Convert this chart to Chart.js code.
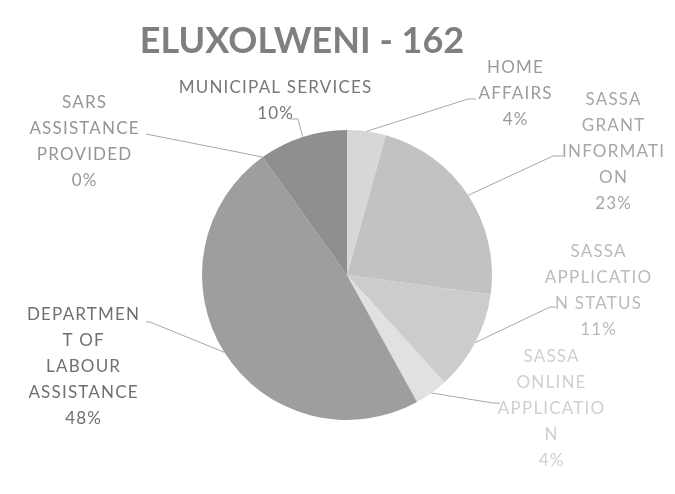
<!DOCTYPE html>
<html>
<head>
<meta charset="utf-8">
<script src="https://cdn.jsdelivr.net/npm/chart.js@4.4.1/dist/chart.umd.min.js"></script>
<style>
  html, body { margin: 0; padding: 0; background: #fff; }
  #wrap { width: 675px; height: 494px; }
</style>
</head>
<body>
<div id="wrap"><canvas id="myChart" width="675" height="494"></canvas></div>
<script>
// Eluxolweni - enquiries by category (162 in total)

const title = "ELUXOLWENI - 162"

const categories = [
  "HOME AFFAIRS",
  "SASSA GRANT INFORMATION",
  "SASSA APPLICATION STATUS",
  "SASSA ONLINE APPLICATION",
  "DEPARTMENT OF LABOUR ASSISTANCE",
  "SARS ASSISTANCE PROVIDED",
  "MUNICIPAL SERVICES"
]

// label text as wrapped in the original
const labelLines = [
  ["HOME", "AFFAIRS"],
  ["SASSA", "GRANT", "INFORMATI", "ON"],
  ["SASSA", "APPLICATIO", "N STATUS"],
  ["SASSA", "ONLINE", "APPLICATIO", "N"],
  ["DEPARTMEN", "T OF", "LABOUR", "ASSISTANCE"],
  ["SARS", "ASSISTANCE", "PROVIDED"],
  ["MUNICIPAL SERVICES"]
]

const counts = [7, 37, 18, 6, 78, 0, 16]

const sliceColors = ['#d7d7d7', '#c2c2c2', '#cccccc', '#e1e1e1', '#9e9e9e', '#9a9a9a', '#8f8f8f']
const textColors = ['#9a9a9a', '#a6a6a6', '#bbbbbb', '#cfcfcf', '#707070', '#959595', '#777777']

// where each label block sits (centre x, first line y) and where its leader line ends
const labelSpots = [
  { x: 515, y: 68, lx: 468, ly: 99, hx: 476 },
  { x: 613, y: 100, lx: 553, ly: 156, hx: 563 },
  { x: 598, y: 252, lx: 550, ly: 307, hx: 556 },
  { x: 551, y: 357, lx: 493, ly: 403, hx: 500 },
  { x: 83, y: 315, lx: 150, ly: 322, hx: 146 },
  { x: 84, y: 103, lx: 146, ly: 134, hx: 146 },
  { x: 275, y: 88, lx: 298, ly: 119, hx: 290 }
]

const total = counts.reduce((a, b) => a + b, 0)

const pieLabels = {
  id: 'pieLabels',
  afterDraw(chart) {
    const c = chart.ctx
    c.save()
    // title
    c.fillStyle = '#7f7f7f'
    c.font = 'bold 36px Lato'
    c.textAlign = 'center'
    c.textBaseline = 'alphabetic'
    c.fillText(title, 302, 53)

    const arcs = chart.getDatasetMeta(0).data
    arcs.forEach((arc, i) => {
      const spot = labelSpots[i]
      const p = arc.getProps(['x', 'y', 'startAngle', 'endAngle', 'outerRadius'], true)
      const mid = (p.startAngle + p.endAngle) / 2
      const ex = p.x + Math.cos(mid) * p.outerRadius
      const ey = p.y + Math.sin(mid) * p.outerRadius

      c.strokeStyle = '#a8a8a8'
      c.lineWidth = 1
      c.beginPath()
      c.moveTo(ex, ey)
      c.lineTo(spot.lx, spot.ly)
      c.lineTo(spot.hx, spot.ly)
      c.stroke()

      const pct = Math.round(counts[i] / total * 100) + '%'
      const lines = labelLines[i].concat([pct])
      c.fillStyle = textColors[i]
      c.font = '17px Lato'
      c.letterSpacing = '1.2px'
      c.textAlign = 'center'
      c.textBaseline = 'middle'
      lines.forEach((t, k) => {
        c.fillText(t, spot.x + 0.6, spot.y + k * 26)
      })
      c.letterSpacing = '0px'
    })
    c.restore()
  }
}

const data = {
  labels: categories,
  datasets: [{
    data: counts,
    backgroundColor: sliceColors,
    borderWidth: 0
  }]
}

const options = {
  responsive: false,
  animation: false,
  layout: {
    padding: { top: 130, bottom: 74, left: 202, right: 183 }
  },
  plugins: {
    legend: { display: false },
    title: { display: false },
    tooltip: { enabled: false }
  }
}

const config = {
  type: 'pie',
  data: data,
  options: options,
  plugins: [pieLabels]
}

const chart = new Chart(document.querySelector("#myChart"), config)
</script>
</body>
</html>
